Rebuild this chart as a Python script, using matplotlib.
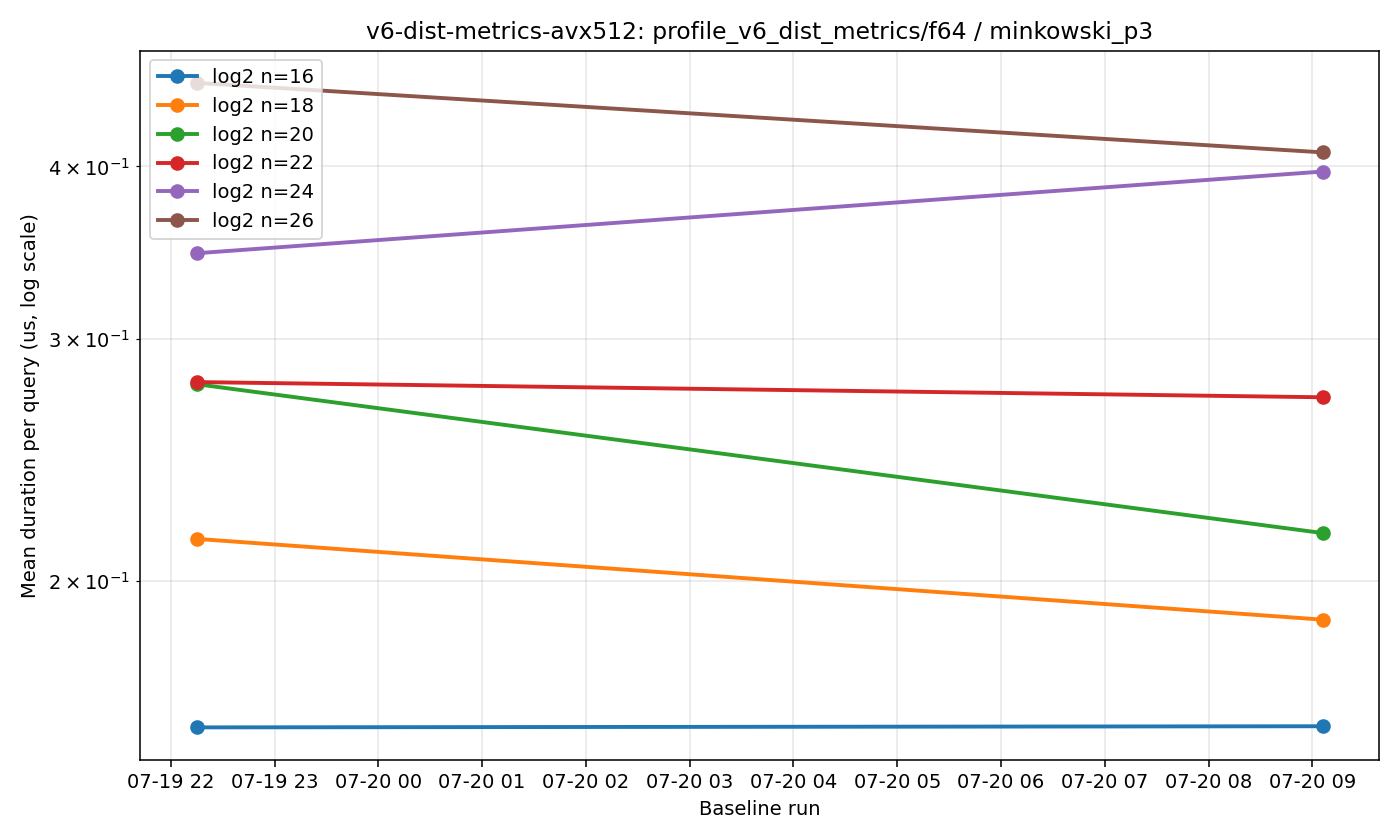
import matplotlib
matplotlib.use("Agg")
import matplotlib.pyplot as plt
import matplotlib.dates as mdates
from datetime import datetime

# ===== data =====
runs = [datetime(2024, 7, 19, 22, 15), datetime(2024, 7, 20, 9, 6)]
labels = ["log2 n=16", "log2 n=18", "log2 n=20", "log2 n=22", "log2 n=24", "log2 n=26"]
n16 = [0.1567, 0.1570]
n18 = [0.2147, 0.1876]
n20 = [0.2780, 0.2168]
n22 = [0.2790, 0.2720]
n24 = [0.3460, 0.3966]
n26 = [0.4599, 0.4095]
series = [n16, n18, n20, n22, n24, n26]

fig, ax = plt.subplots(figsize=(10, 6), dpi=140)

for lab, vals in zip(labels, series):
    ax.plot(runs, vals, marker="o", linewidth=2, markersize=6.5, label=lab)

ax.set_yscale("log")
ax.xaxis.set_major_locator(mdates.HourLocator())
ax.xaxis.set_major_formatter(mdates.DateFormatter("%m-%d %H"))

ax.grid(True, which="both", alpha=0.3)
ax.set_title("v6-dist-metrics-avx512: profile_v6_dist_metrics/f64 / minkowski_p3")
ax.set_xlabel("Baseline run")
ax.set_ylabel("Mean duration per query (us, log scale)")
ax.legend(loc="upper left")

fig.tight_layout()
fig.savefig("out.png", dpi=140)
